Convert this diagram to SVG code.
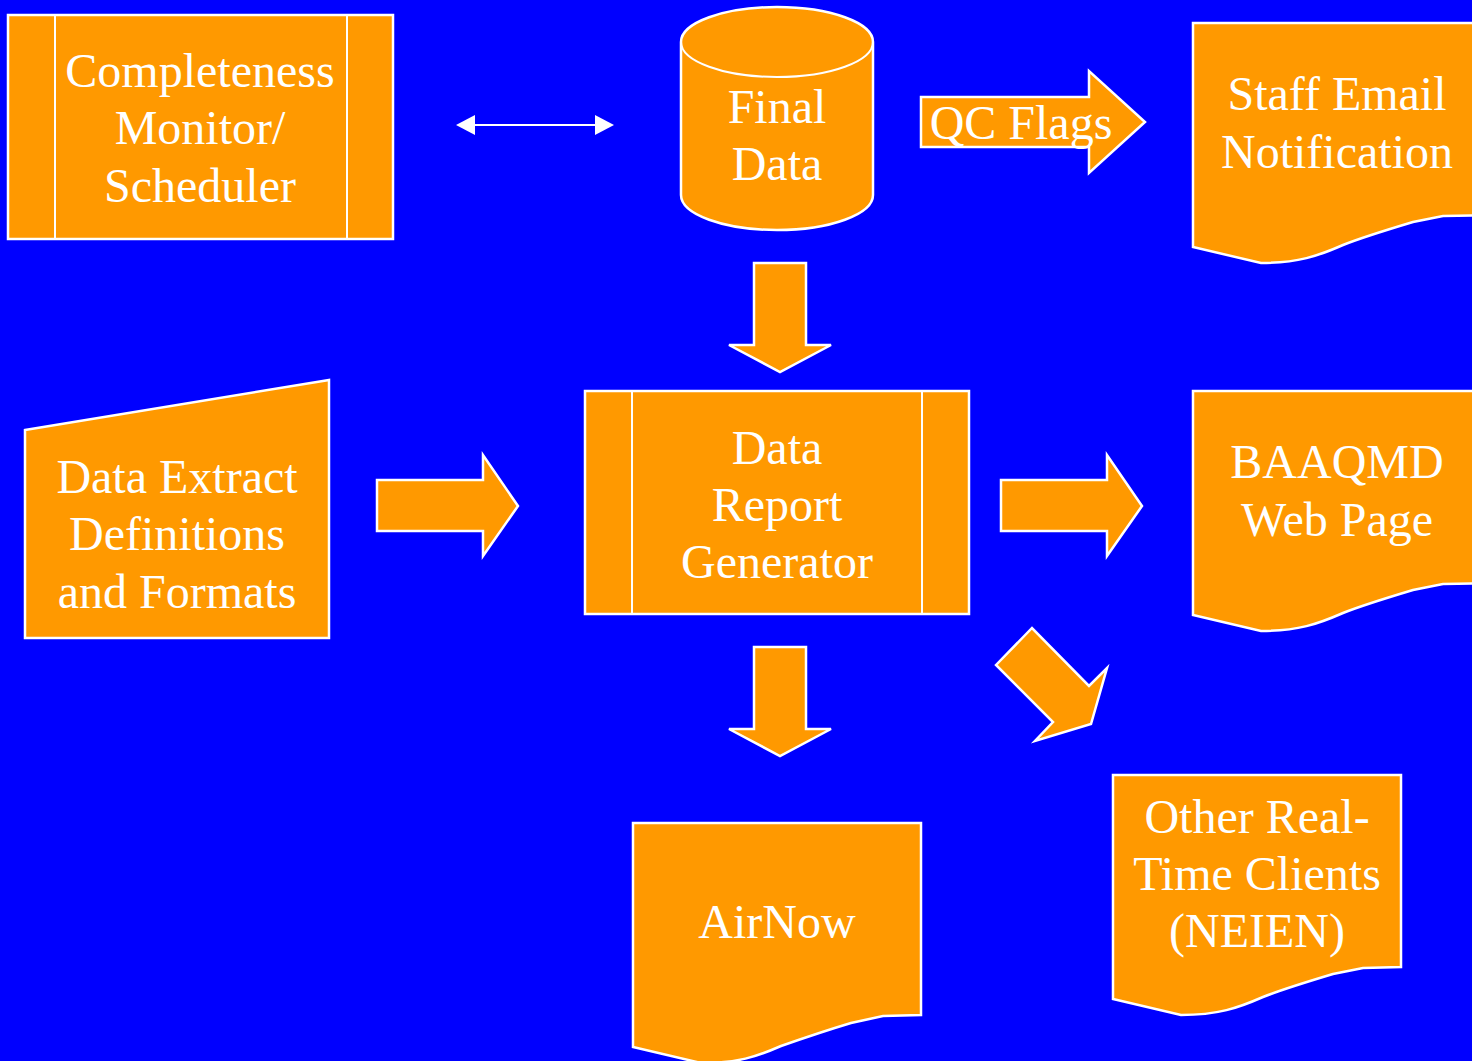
<svg xmlns="http://www.w3.org/2000/svg" width="1472" height="1061" viewBox="0 0 1472 1061">
<defs>
<style>
.shape{fill:#FF9900;stroke:#FFFFFF;stroke-width:2.5;stroke-linejoin:miter}
.line{fill:none;stroke:#FFFFFF;stroke-width:2}
.lbl{fill:#FFFFFF;font-family:'Liberation Serif','Times New Roman',Tinos,'Noto Serif','DejaVu Serif',serif;font-size:48px;text-anchor:middle}
.head{fill:#FFFFFF;stroke:none}
</style>
<path id="doc" d="M0,0 H300 V192 L250,193 L220,199 C190,208 170,214 150,222 C125,233 105,240 68,240 L0,224 Z"/>
</defs>
<rect x="0" y="0" width="1472" height="1061" fill="#0000FF"/>

<g id="connectors">
  <g id="c-double">
    <line class="line" x1="470" y1="125" x2="600" y2="125"/>
    <polygon class="head" points="456,125 475,115 475,135"/>
    <polygon class="head" points="614,125 595,115 595,135"/>
  </g>
  <g id="c-qcflags">
    <polygon class="shape" points="921,97 1089,97 1089,71 1145,122 1089,173 1089,147 921,147"/>
    <text class="lbl" x="1021" y="139" font-family="Liberation Serif, serif">QC Flags</text>
  </g>
  <polygon id="c-final-drg" class="shape" points="754,263 806,263 806,345 831,345 780,372 729,345 754,345"/>
  <polygon id="c-extract-drg" class="shape" points="377,480 483,480 483,455 518,506 483,556 483,531 377,531"/>
  <polygon id="c-drg-web" class="shape" points="1001,480 1107,480 1107,455 1142,506 1107,556 1107,531 1001,531"/>
  <polygon id="c-drg-airnow" class="shape" points="754,647 806,647 806,729 831,729 780,756 729,729 754,729"/>
  <polygon id="c-drg-other" class="shape" points="996,665 1032,628 1089,686 1107,668 1091,724 1035,741 1053,722"/>
</g>

<g id="completeness">
  <rect class="shape" x="8" y="15" width="385" height="224"/>
  <line class="line" x1="55" y1="15" x2="55" y2="239"/>
  <line class="line" x1="347" y1="15" x2="347" y2="239"/>
  <text class="lbl" x="200" y="87">Completeness</text>
  <text class="lbl" x="200" y="144">Monitor/</text>
  <text class="lbl" x="200" y="202">Scheduler</text>
</g>

<g id="final-data">
  <path class="shape" d="M681,42 V195 A96,35 0 0 0 873,195 V42 A96,35 0 0 0 681,42 Z"/>
  <path class="line" d="M681,42 A96,35 0 0 0 873,42"/>
  <text class="lbl" x="777" y="123">Final</text>
  <text class="lbl" x="777" y="180">Data</text>
</g>

<g id="staff-email">
  <use href="#doc" class="shape" transform="translate(1193,23)"/>
  <text class="lbl" x="1337" y="110">Staff Email</text>
  <text class="lbl" x="1337" y="168">Notification</text>
</g>

<g id="data-extract">
  <polygon class="shape" points="25,430 329,380 329,638 25,638"/>
  <text class="lbl" x="177" y="493">Data Extract</text>
  <text class="lbl" x="177" y="550">Definitions</text>
  <text class="lbl" x="177" y="608">and Formats</text>
</g>

<g id="data-report-generator">
  <rect class="shape" x="585" y="391" width="384" height="223"/>
  <line class="line" x1="632" y1="391" x2="632" y2="614"/>
  <line class="line" x1="922" y1="391" x2="922" y2="614"/>
  <text class="lbl" x="777" y="464">Data</text>
  <text class="lbl" x="777" y="521">Report</text>
  <text class="lbl" x="777" y="578">Generator</text>
</g>

<g id="baaqmd-web">
  <use href="#doc" class="shape" transform="translate(1193,391)"/>
  <text class="lbl" x="1337" y="478">BAAQMD</text>
  <text class="lbl" x="1337" y="536">Web Page</text>
</g>

<g id="airnow">
  <path class="shape" d="M633,823 H921 V1015 L883,1016 L851,1023 C821,1032 801,1039 781,1046 C756,1057 738,1063 701,1063 L633,1047 Z"/>
  <text class="lbl" x="777" y="938">AirNow</text>
</g>

<g id="other-clients">
  <path class="shape" d="M1113,775 H1401 V967 L1363,968 L1333,974 C1303,983 1283,989 1263,997 C1238,1008 1218,1015 1181,1015 L1113,999 Z"/>
  <text class="lbl" x="1257" y="833">Other Real-</text>
  <text class="lbl" x="1257" y="890">Time Clients</text>
  <text class="lbl" x="1257" y="947">(NEIEN)</text>
</g>
</svg>
